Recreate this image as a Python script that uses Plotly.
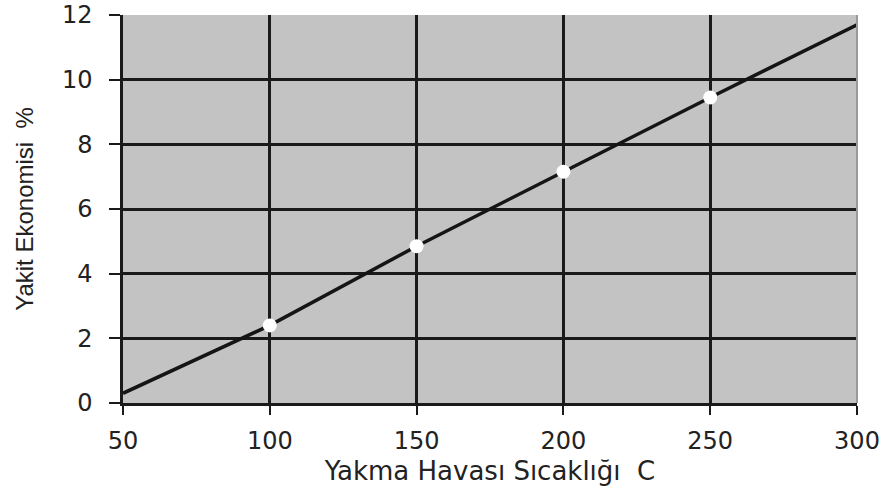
import plotly.graph_objects as go

line_x = [50, 100, 150, 200, 250, 300]
line_y = [0.3, 2.4, 4.85, 7.15, 9.45, 11.7]
marker_x = [100, 150, 200, 250]
marker_y = [2.4, 4.85, 7.15, 9.45]

x_ticks = [50, 100, 150, 200, 250, 300]
y_ticks = [0, 2, 4, 6, 8, 10, 12]

fig = go.Figure()
fig.add_trace(go.Scatter(x=line_x, y=line_y, mode="lines",
                         line=dict(color="#151515", width=3.5), showlegend=False))
fig.add_trace(go.Scatter(x=marker_x, y=marker_y, mode="markers",
                         marker=dict(color="white", size=14, line=dict(width=0)),
                         showlegend=False))

fig.add_shape(type="line", xref="paper", yref="paper", x0=1, x1=1, y0=0, y1=1,
              line=dict(color="#999999", width=2))

fig.update_layout(
    width=889, height=493,
    margin=dict(l=123, r=32, t=15, b=90),
    paper_bgcolor="white",
    plot_bgcolor="#c3c3c3",
    font=dict(family="DejaVu Sans, sans-serif", color="#222222"),
    xaxis=dict(range=[50, 300], tickvals=x_ticks, ticktext=[str(v) for v in x_ticks],
               showgrid=True, gridcolor="#1a1a1a", gridwidth=2.5,
               showline=True, linecolor="#1a1a1a", linewidth=2.5,
               ticks="outside", ticklen=9, tickwidth=2, tickcolor="#1a1a1a",
               tickfont=dict(size=24), zeroline=False, automargin=False,
               ticklabelstandoff=5, ticklabeloverflow="allow",
               title=dict(text="Yakma Havası Sıcaklığı  C", font=dict(size=26), standoff=9)),
    yaxis=dict(range=[0, 12], tickvals=y_ticks, ticktext=[str(v) for v in y_ticks],
               showgrid=True, gridcolor="#1a1a1a", gridwidth=2.5,
               showline=True, linecolor="#1a1a1a", linewidth=2.5,
               ticks="outside", ticklen=11, tickwidth=2, tickcolor="#1a1a1a",
               tickfont=dict(size=24), zeroline=False, automargin=False,
               ticklabelstandoff=12, ticklabeloverflow="allow",
               title=dict(text="Yakit Ekonomisi  %",
                          font=dict(size=24, family="Liberation Sans, Arial, sans-serif"),
                          standoff=22)),
)

fig.write_html("out.html", config={"displayModeBar": False},
               post_script="document.body.style.margin='0';")
